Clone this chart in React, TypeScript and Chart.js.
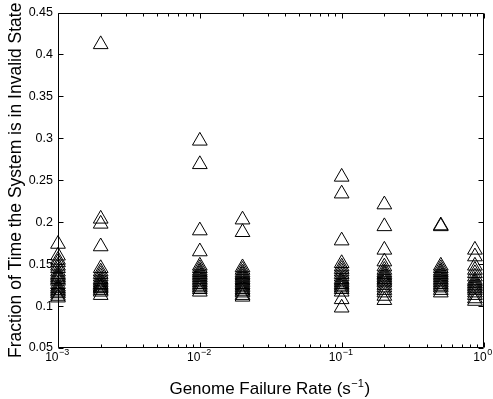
import React, { useEffect, useRef } from "react";
import { Chart, registerables } from "chart.js";
Chart.register(...registerables);

const FONT = "'Liberation Sans', Arial, Helvetica, sans-serif";

// x positions of the columns (genome failure rate, s^-1)
const failureRates = [0.001, 0.002, 0.01, 0.02, 0.1, 0.2, 0.5, 0.87];

// Fraction of time in invalid state, one array per failure rate
const frac1e3 = [0.174, 0.16, 0.155, 0.152, 0.148, 0.145, 0.141, 0.138, 0.136, 0.134, 0.132, 0.13, 0.126, 0.123, 0.121, 0.119, 0.117, 0.115, 0.112, 0.11];
const frac2e3 = [0.412, 0.204, 0.198, 0.171, 0.145, 0.141, 0.138, 0.135, 0.132, 0.13, 0.128, 0.126, 0.125, 0.123, 0.122, 0.121, 0.119, 0.117, 0.113];
const frac1e2 = [0.297, 0.269, 0.19, 0.165, 0.148, 0.145, 0.142, 0.14, 0.138, 0.136, 0.134, 0.132, 0.13, 0.128, 0.126, 0.124, 0.122, 0.12, 0.117];
const frac2e2 = [0.203, 0.188, 0.146, 0.143, 0.14, 0.138, 0.136, 0.134, 0.132, 0.13, 0.128, 0.126, 0.124, 0.122, 0.12, 0.118, 0.116, 0.113, 0.111];
const frac1e1 = [0.254, 0.234, 0.178, 0.151, 0.147, 0.144, 0.141, 0.138, 0.135, 0.132, 0.13, 0.128, 0.126, 0.124, 0.122, 0.12, 0.117, 0.108, 0.098];
const frac2e1 = [0.221, 0.195, 0.167, 0.153, 0.147, 0.143, 0.14, 0.138, 0.136, 0.134, 0.132, 0.13, 0.128, 0.125, 0.122, 0.119, 0.116, 0.112, 0.107];
const frac5e1 = [0.196, 0.195, 0.148, 0.145, 0.142, 0.14, 0.138, 0.136, 0.134, 0.132, 0.13, 0.128, 0.126, 0.124, 0.122, 0.119, 0.116];
const frac1e0 = [0.167, 0.159, 0.148, 0.143, 0.139, 0.135, 0.131, 0.129, 0.127, 0.125, 0.123, 0.121, 0.119, 0.116, 0.113, 0.109, 0.106];
const columns = [frac1e3, frac2e3, frac1e2, frac2e2, frac1e1, frac2e1, frac5e1, frac1e0];

const yTicks = [0.05, 0.1, 0.15, 0.2, 0.25, 0.3, 0.35, 0.4, 0.45];
const yTickLabels = ["0.05", "0.1", "0.15", "0.2", "0.25", "0.3", "0.35", "0.4", "0.45"];
const xTickExponents = [-3, -2, -1, 0];
const xTitleMain = "Genome Failure Rate (s";
const xTitleSup = "\u22121";
const xTitleEnd = ")";
const yTitle = "Fraction of Time the System is in Invalid State";

const matlabAxes = {
  id: "matlabAxes",
  afterDraw(chart: any) {
    const { ctx, chartArea: a, scales } = chart;
    const x = scales.x;
    const y = scales.y;
    ctx.save();
    ctx.strokeStyle = "#000";
    ctx.lineWidth = 1;
    const L = Math.round(a.left) + 0.5;
    const R = Math.round(a.right) - 0.5;
    const T = Math.round(a.top) + 0.5;
    const B = Math.round(a.bottom) - 0.5;
    ctx.beginPath();
    ctx.rect(L, T, R - L, B - T);
    yTicks.forEach((v) => {
      const py = Math.round(y.getPixelForValue(v)) + 0.5;
      ctx.moveTo(L, py);
      ctx.lineTo(L + 5, py);
      ctx.moveTo(R, py);
      ctx.lineTo(R - 5, py);
    });
    xTickExponents.forEach((e, i) => {
      const px = Math.round(x.getPixelForValue(Math.pow(10, e))) + 0.5;
      ctx.moveTo(px, B);
      ctx.lineTo(px, B - 5);
      ctx.moveTo(px, T);
      ctx.lineTo(px, T + 5);
      if (i < xTickExponents.length - 1) {
        for (let m = 2; m <= 9; m++) {
          const pm = Math.round(x.getPixelForValue(m * Math.pow(10, e))) + 0.5;
          ctx.moveTo(pm, B);
          ctx.lineTo(pm, B - 3);
          ctx.moveTo(pm, T);
          ctx.lineTo(pm, T + 3);
        }
      }
    });
    ctx.stroke();

    // x tick labels with superscript exponents
    ctx.fillStyle = "#000";
    ctx.textBaseline = "alphabetic";
    ctx.textAlign = "left";
    xTickExponents.forEach((e) => {
      const px = x.getPixelForValue(Math.pow(10, e));
      const base = "10";
      const sup = e < 0 ? "\u2212" + Math.abs(e) : String(e);
      ctx.font = `12px ${FONT}`;
      const wb = ctx.measureText(base).width;
      ctx.font = `9px ${FONT}`;
      const ws = ctx.measureText(sup).width;
      const start = px - (wb + ws) / 2 - 1;
      ctx.font = `12px ${FONT}`;
      ctx.fillText(base, start, 361);
      ctx.font = `9px ${FONT}`;
      ctx.fillText(sup, start + wb + 0.5, 355);
    });

    // x title
    ctx.font = `17px ${FONT}`;
    const w1 = ctx.measureText(xTitleMain).width;
    const w3 = ctx.measureText(xTitleEnd).width;
    ctx.font = `11px ${FONT}`;
    const w2 = ctx.measureText(xTitleSup).width;
    const cx = (a.left + a.right) / 2 - 1;
    const sx = cx - (w1 + w2 + w3 + 1) / 2;
    ctx.font = `17px ${FONT}`;
    ctx.fillText(xTitleMain, sx, 394);
    ctx.font = `11px ${FONT}`;
    ctx.fillText(xTitleSup, sx + w1 + 0.5, 387);
    ctx.font = `17px ${FONT}`;
    ctx.fillText(xTitleEnd, sx + w1 + w2 + 1, 394);
    ctx.restore();
  },
};

export default function App() {
  const ref = useRef<HTMLCanvasElement>(null);
  useEffect(() => {
    document.body.style.margin = "0";
    const points: { x: number; y: number }[] = [];
    columns.forEach((vals, i) => vals.forEach((v) => points.push({ x: failureRates[i], y: v })));
    const chart = new Chart(ref.current as HTMLCanvasElement, {
      type: "scatter",
      data: {
        datasets: [
          {
            data: points,
            pointStyle: "triangle",
            pointRadius: 8.5,
            pointHoverRadius: 8.5,
            pointBorderColor: "#000",
            pointBackgroundColor: "rgba(0,0,0,0)",
            pointBorderWidth: 1,
            clip: false as any,
          },
        ],
      },
      options: {
        responsive: false,
        animation: false,
        devicePixelRatio: 1,
        events: [],
        layout: { padding: { top: 12, right: 6, left: 0, bottom: 0 } },
        plugins: { legend: { display: false }, tooltip: { enabled: false } },
        scales: {
          x: {
            type: "logarithmic",
            min: 0.001,
            max: 1,
            grid: { display: false },
            border: { display: false },
            ticks: { display: false },
            afterFit(s: any) {
              s.height = 51;
            },
          },
          y: {
            type: "linear",
            min: 0.05,
            max: 0.45,
            afterBuildTicks(s: any) {
              s.ticks = yTicks.map((v) => ({ value: v }));
            },
            ticks: {
              callback: (v: any) => {
                const i = yTicks.findIndex((t) => Math.abs(t - Number(v)) < 1e-9);
                return i >= 0 ? yTickLabels[i] : "";
              },
              font: { family: FONT, size: 12.5 },
              color: "#000",
              padding: 5,
            },
            grid: { display: false, drawTicks: false },
            border: { display: false },
            title: {
              display: true,
              text: yTitle,
              font: { family: FONT, size: 17.5 },
              color: "#000",
              padding: { top: 5.5, bottom: 0 },
            },
            afterFit(s: any) {
              s.width = 58;
            },
          },
        },
      },
      plugins: [matlabAxes],
    });
    return () => chart.destroy();
  }, []);
  return <canvas ref={ref} width={493} height={399} style={{ display: "block" }} />;
}
